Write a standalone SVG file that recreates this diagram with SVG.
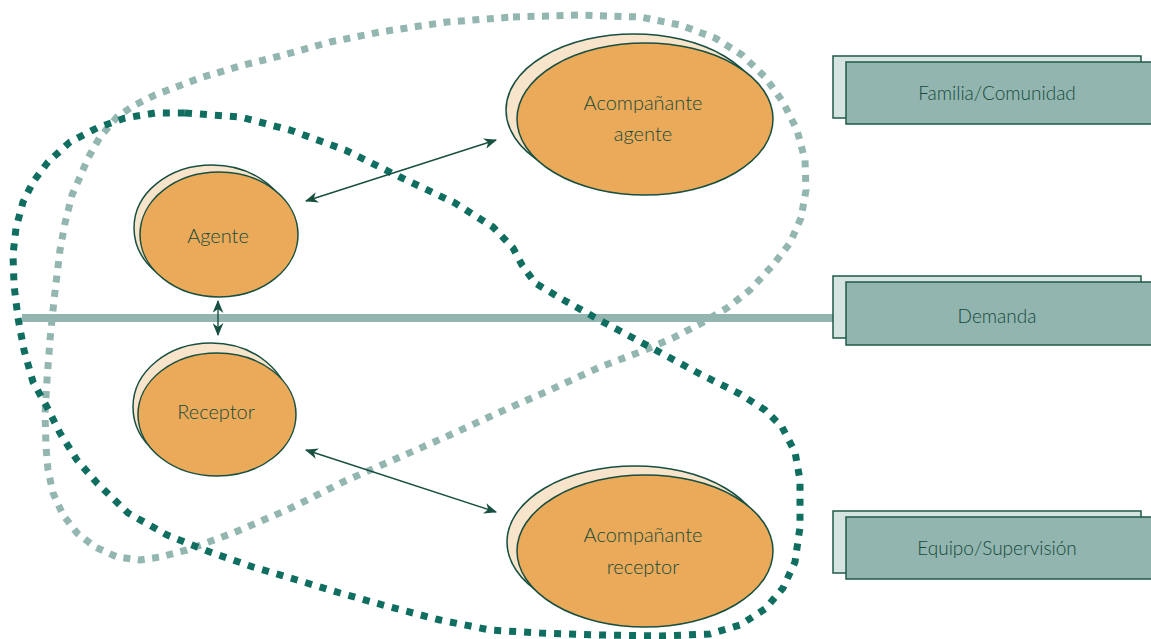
<svg xmlns="http://www.w3.org/2000/svg" width="1151" height="639" viewBox="0 0 1151 639">
<style>
.txt{font-family:Lato,"Open Sans","Liberation Sans",sans-serif;font-weight:300;font-size:20px;fill:#154A3B;text-anchor:middle}
.btxt{font-family:Lato,"Open Sans","Liberation Sans",sans-serif;font-weight:300;font-size:19px;fill:#154A3B;text-anchor:middle}
.back{fill:#F8E3CB;stroke:#174F40;stroke-width:1.5}
.front{fill:#EBAA5A;stroke:#174F40;stroke-width:1.5}
.bback{fill:#D6E4E1;stroke:#1F5A4A;stroke-width:1.5}
.bfront{fill:#92B5AF;stroke:#1F5A4A;stroke-width:1.5}
.arrow{stroke:#174F40;stroke-width:1.4;fill:none;marker-start:url(#ah);marker-end:url(#ah)}
.loopL{fill:none;stroke:#93B6B0;stroke-width:7;stroke-dasharray:7 7.5;stroke-linejoin:round}
.loopD{fill:none;stroke:#0F6E60;stroke-width:7;stroke-dasharray:7 8;stroke-linejoin:round}
</style>
<defs>
<marker id="ah" viewBox="0 0 12 10" refX="11" refY="5" markerWidth="13" markerHeight="11" markerUnits="userSpaceOnUse" orient="auto-start-reverse">
<path d="M0,0 L12,5 L0,10 L3.5,5 Z" fill="#174F40"/>
</marker>
</defs>
<rect width="1151" height="639" fill="#FFFFFF"/>
<g id="bar">
<line x1="22" y1="318" x2="840" y2="318" stroke="#92B5AF" stroke-width="8"/>
</g>
<g id="loops">
<path class="loopL" d="M513,17 L580,15 L640,17 L680,25 L715,38 L742,55 L765,77 L783,102 L797,130 L805,160 L806,190 L801,218 L790,243 L773,265 L750,290 L727,308 L700,324 L673,338 L640,352 L600,367 L550,390 L500,412 L450,435 L400,457 L343,482 L287,510 L233,533 L187,550 L160,557 L140,560 L117,557 L95,547 L77,533 L63,515 L53,493 L48,470 L46,447 L45,413 L47,380 L50,340 L54,300 L60,250 L65,223 L72,195 L80,177 L88,158 L100,137 L117,117 L133,106 L155,95 L200,78 L240,66 L280,56 L330,42 L380,32 L447,22 Z"/>
<path class="loopD" d="M185,113 L240,117 L290,130 L345,150 L400,177 L455,203 L493,227 L513,248 L522,265 L535,283 L560,298 L605,323 L650,347 L700,374 L740,394 L765,410 L782,427 L795,452 L800,480 L800,527 L795,562 L783,588 L765,609 L740,625 L710,634 L660,636 L600,635 L540,633 L490,630 L440,620 L390,607 L340,593 L297,580 L253,567 L210,552 L167,535 L128,513 L97,483 L77,460 L60,433 L47,407 L33,382 L24,350 L18,318 L14,285 L13,255 L16,228 L23,202 L33,182 L48,162 L70,142 L97,128 L125,118 L155,113 Z"/>
</g>
<g id="connectors">
<line class="arrow" x1="306" y1="201" x2="496" y2="140"/>
<line class="arrow" x1="306" y1="450" x2="496" y2="512"/>
<line class="arrow" x1="218" y1="301" x2="218" y2="335"/>
</g>
<g id="agente">
<ellipse class="back" cx="212" cy="228" rx="78" ry="63"/>
<ellipse class="front" cx="219" cy="234.5" rx="79" ry="62.5"/>
<text class="txt" x="218" y="243">Agente</text>
</g>
<g id="receptor">
<ellipse class="back" cx="211" cy="407" rx="78" ry="64"/>
<ellipse class="front" cx="217" cy="414.5" rx="79" ry="61.5"/>
<text class="txt" x="216" y="419">Receptor</text>
</g>
<g id="acompanante-agente">
<ellipse class="back" cx="634" cy="110" rx="128" ry="76"/>
<ellipse class="front" cx="645" cy="119" rx="128" ry="76"/>
<text class="txt" x="643" y="110">Acompañante</text>
<text class="txt" x="643" y="141">agente</text>
</g>
<g id="acompanante-receptor">
<ellipse class="back" cx="635" cy="542" rx="128" ry="76"/>
<ellipse class="front" cx="645" cy="551" rx="128" ry="76"/>
<text class="txt" x="643" y="542">Acompañante</text>
<text class="txt" x="643" y="574">receptor</text>
</g>
<g id="familia">
<rect class="bback" x="833" y="56" width="308" height="62"/>
<rect class="bfront" x="846" y="62" width="310" height="62"/>
<text class="btxt" x="997" y="100">Familia/Comunidad</text>
</g>
<g id="demanda">
<rect class="bback" x="833" y="276" width="308" height="62"/>
<rect class="bfront" x="846" y="282" width="310" height="63"/>
<text class="btxt" x="997" y="323">Demanda</text>
</g>
<g id="equipo">
<rect class="bback" x="833" y="511" width="308" height="62"/>
<rect class="bfront" x="846" y="517" width="310" height="62"/>
<text class="btxt" x="997" y="555">Equipo/Supervisión</text>
</g>
</svg>
